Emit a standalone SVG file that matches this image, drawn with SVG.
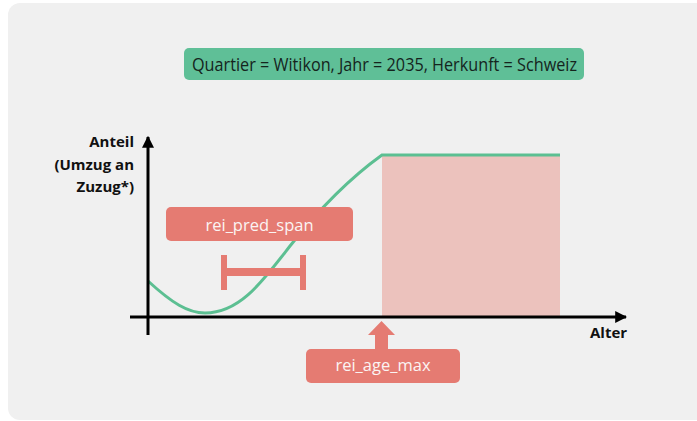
<svg xmlns="http://www.w3.org/2000/svg" width="697" height="421" viewBox="0 0 697 421">
<style>
.lbl{font-family:"Open Sans","DejaVu Sans",sans-serif;}
.ax{font-family:"Open Sans","DejaVu Sans",sans-serif;font-weight:bold;font-size:15px;fill:#111;}
.red{fill:#e57b72;}
.redt{font-family:"Open Sans","DejaVu Sans",sans-serif;font-size:16.5px;fill:#fbf4f3;}
.axis{stroke:#000;stroke-width:3;fill:none;}
</style>
<defs>
<marker id="arr" viewBox="0 0 10 10" refX="9" refY="5" markerWidth="4" markerHeight="4" orient="auto" markerUnits="strokeWidth">
<path d="M0,0 L10,5 L0,10 z" fill="#000"/>
</marker>
</defs>
<rect x="0" y="0" width="697" height="421" fill="#ffffff"/>
<rect x="8" y="3" width="700" height="417" rx="12" fill="#f0f0f0"/>

<g id="title">
<rect x="184" y="48" width="400" height="32" rx="5" fill="#5fbf97"/>
<text class="lbl" x="192" y="71" font-size="18" fill="#15241d" textLength="385" lengthAdjust="spacingAndGlyphs">Quartier = Witikon, Jahr = 2035, Herkunft = Schweiz</text>
</g>

<g id="region">
<rect x="382" y="155" width="178" height="162" fill="#ecc2bd"/>
</g>

<g id="curve">
<path d="M148,281 C172,303 188,313 205,313 C240,313 262,282 290,246 C320,208 350,178 382,155 L560,155" fill="none" stroke="#5cbf92" stroke-width="3"/>
</g>

<g id="connectors">
<line class="axis" x1="148" y1="335" x2="148" y2="137" marker-end="url(#arr)"/>
<line class="axis" x1="130" y1="317" x2="626" y2="317" marker-end="url(#arr)"/>
</g>

<g id="yaxis-label">
<text class="ax" text-anchor="end" x="134" y="147">Anteil</text>
<text class="ax" text-anchor="end" x="134" y="170">(Umzug an</text>
<text class="ax" text-anchor="end" x="134" y="192">Zuzug*)</text>
</g>

<g id="xaxis-label">
<text class="ax" x="590" y="338">Alter</text>
</g>

<g id="rei_pred_span">
<rect class="red" x="166" y="207" width="187" height="34" rx="5"/>
<text class="redt" x="259.5" y="231" text-anchor="middle">rei_pred_span</text>
<rect class="red" x="221" y="255" width="6" height="35"/>
<rect class="red" x="300" y="255" width="6" height="35"/>
<rect class="red" x="224" y="268" width="79" height="8"/>
</g>

<g id="rei_age_max">
<path class="red" d="M375,349 L375,335 L368,335 L381.5,321 L395,335 L388,335 L388,349 z"/>
<rect class="red" x="306" y="349" width="154" height="34" rx="5"/>
<text class="redt" x="383" y="371" text-anchor="middle">rei_age_max</text>
</g>
</svg>
